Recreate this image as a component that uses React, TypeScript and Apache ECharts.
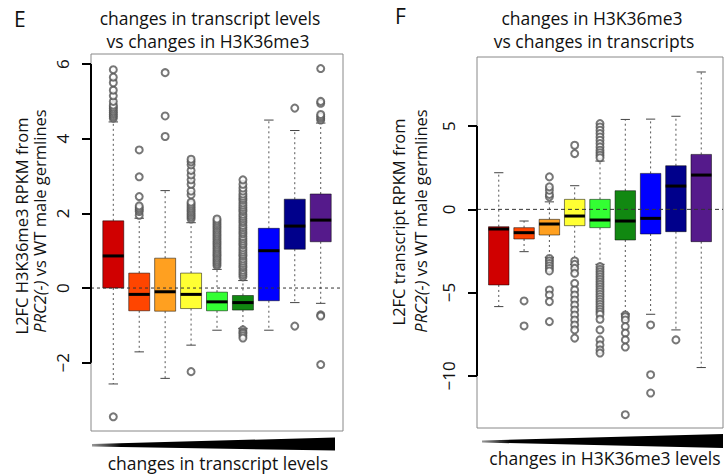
import React, { useEffect, useRef } from "react";
import * as echarts from "echarts";

// ---------- data ----------
const categories = [1, 2, 3, 4, 5, 6, 7, 8, 9];
const boxColors = ["#D00000", "#FF4500", "#FFA020", "#FFFF33", "#33FF33", "#118811", "#0000FF", "#00008B", "#551A8B"];

// Panel E: L2FC H3K36me3
const eLow = [-2.57, -1.71, -2.42, -1.53, -1.13, -1.08, -1.13, -0.39, -0.41];
const eQ1 = [0.0, -0.61, -0.62, -0.55, -0.61, -0.59, -0.34, 1.04, 1.24];
const eMed = [0.86, -0.17, -0.1, -0.17, -0.37, -0.39, 1.0, 1.66, 1.82];
const eQ3 = [1.8, 0.4, 0.8, 0.4, -0.11, -0.2, 1.6, 2.38, 2.52];
const eHigh = [4.45, 1.87, 2.61, 1.75, 0.5, 0.2, 4.5, 4.22, 4.42];
const eOutliers: number[][] = [
  [1, 4.55], [1, 4.6], [1, 4.65], [1, 4.7], [1, 4.75], [1, 4.8], [1, 4.85], [1, 4.9], [1, 5.0], [1, 5.15], [1, 5.3], [1, 5.5], [1, 5.65], [1, 5.85], [1, -3.45],
  [2, 1.95], [2, 2.05], [2, 2.1], [2, 2.15], [2, 2.2], [2, 2.45], [2, 2.98], [2, 3.7],
  [3, 4.06], [3, 4.61], [3, 5.77],
  [4, 1.85], [4, 1.9], [4, 1.95], [4, 2.0], [4, 2.05], [4, 2.1], [4, 2.15], [4, 2.2], [4, 2.25], [4, 2.3], [4, 2.5], [4, 2.6], [4, 2.78], [4, 2.9], [4, 3.03], [4, 3.15], [4, 3.3], [4, 3.38], [4, 3.45], [4, -2.24],
  [5, 0.6], [5, 0.65], [5, 0.7], [5, 0.75], [5, 0.8], [5, 0.85], [5, 0.9], [5, 0.95], [5, 1.0], [5, 1.05], [5, 1.1], [5, 1.15], [5, 1.2], [5, 1.25], [5, 1.3], [5, 1.35], [5, 1.4], [5, 1.45], [5, 1.5], [5, 1.55], [5, 1.6], [5, 1.65], [5, 1.7], [5, 1.75], [5, 1.8], [5, 1.85],
  [6, 0.3], [6, 0.36], [6, 0.42], [6, 0.48], [6, 0.55], [6, 0.6], [6, 0.66], [6, 0.72], [6, 0.78], [6, 0.85], [6, 0.9], [6, 0.96], [6, 1.02], [6, 1.08], [6, 1.15], [6, 1.2], [6, 1.26], [6, 1.32], [6, 1.38], [6, 1.45], [6, 1.5], [6, 1.56], [6, 1.62], [6, 1.68], [6, 1.75], [6, 1.8], [6, 1.86], [6, 1.92], [6, 1.98], [6, 2.05], [6, 2.1], [6, 2.16], [6, 2.22], [6, 2.28], [6, 2.35], [6, 2.4], [6, 2.46], [6, 2.52], [6, 2.6], [6, 2.68], [6, 2.78], [6, 2.9], [6, -1.12], [6, -1.18], [6, -1.22], [6, -1.28], [6, -1.34],
  [8, 4.82], [8, -1.02],
  [9, 4.5], [9, 4.55], [9, 4.6], [9, 4.65], [9, 4.95], [9, 5.0], [9, 5.88], [9, -0.72], [9, -0.75], [9, -2.05],
];
const eTicks = [-2, 0, 2, 4, 6];

// Panel F: L2FC transcript
const fLow = [-5.84, -2.54, -2.88, -3.3, -3.3, -6.28, -6.3, -7.24, -9.5];
const fQ1 = [-4.54, -1.78, -1.54, -0.98, -1.1, -1.84, -1.48, -1.34, -1.94];
const fMed = [-1.18, -1.4, -0.88, -0.4, -0.64, -0.7, -0.54, 1.4, 2.06];
const fQ3 = [-1.04, -1.1, -0.6, 0.6, 0.6, 1.12, 2.16, 2.62, 3.3];
const fHigh = [2.2, -0.7, 0.45, 1.42, 2.9, 5.4, 5.42, 5.59, 8.25];
const fOutliers: number[][] = [
  [2, -5.5], [2, -7.0],
  [3, 0.75], [3, 0.9], [3, 1.15], [3, 1.35], [3, 1.95], [3, -2.95], [3, -3.1], [3, -3.25], [3, -3.4], [3, -3.55], [3, -3.7], [3, -4.84], [3, -5.14], [3, -5.54], [3, -6.74],
  [4, 3.35], [4, 3.85], [4, -3.1], [4, -3.3], [4, -3.54], [4, -3.84], [4, -4.44], [4, -4.84], [4, -5.14], [4, -5.44], [4, -5.74], [4, -6.04], [4, -6.34], [4, -6.64], [4, -6.94], [4, -7.24], [4, -7.73],
  [5, 5.15], [5, 4.95], [5, 4.75], [5, 4.55], [5, 4.35], [5, 4.15], [5, 3.95], [5, 3.75], [5, 3.55], [5, 3.4], [5, 3.25], [5, 3.1],
  [5, -3.44], [5, -3.6], [5, -3.75], [5, -3.9], [5, -4.05], [5, -4.2], [5, -4.35], [5, -4.5], [5, -4.65], [5, -4.8], [5, -4.95], [5, -5.1], [5, -5.25], [5, -5.4], [5, -5.55], [5, -5.7], [5, -5.85], [5, -6.0], [5, -6.15], [5, -6.3], [5, -6.6], [5, -7.24], [5, -7.84], [5, -8.14], [5, -8.44], [5, -8.63],
  [6, -6.34], [6, -6.45], [6, -6.64], [6, -7.04], [6, -7.43], [6, -7.84], [6, -8.27], [6, -12.33],
  [7, -6.94], [7, -9.93], [7, -11.03],
  [8, -7.84],
];
const fTicks = [-10, -5, 0, 5];

const FONT = "'Open Sans', 'Noto Sans', sans-serif";

function boxRows(lo: number[], q1: number[], med: number[], q3: number[], hi: number[]) {
  return categories.map((c, i) => [c, lo[i], q1[i], med[i], q3[i], hi[i]]);
}

function renderBox(params: any, api: any) {
  const x = api.value(0);
  const lo = api.coord([x, api.value(1)]);
  const q1 = api.coord([x, api.value(2)]);
  const md = api.coord([x, api.value(3)]);
  const q3 = api.coord([x, api.value(4)]);
  const hi = api.coord([x, api.value(5)]);
  const bw = api.size([1, 0])[0] * 0.81;
  const cw = bw * 0.45;
  const cx = md[0];
  const color = boxColors[params.dataIndex];
  const dash = { stroke: "#555", lineWidth: 1, lineDash: [2, 3] };
  const cap = { stroke: "#444", lineWidth: 1 };
  return {
    type: "group",
    children: [
      { type: "line", shape: { x1: cx, y1: q3[1], x2: cx, y2: hi[1] }, style: dash },
      { type: "line", shape: { x1: cx, y1: q1[1], x2: cx, y2: lo[1] }, style: dash },
      { type: "line", shape: { x1: cx - cw / 2, y1: hi[1], x2: cx + cw / 2, y2: hi[1] }, style: cap },
      { type: "line", shape: { x1: cx - cw / 2, y1: lo[1], x2: cx + cw / 2, y2: lo[1] }, style: cap },
      {
        type: "rect",
        shape: { x: cx - bw / 2, y: q3[1], width: bw, height: q1[1] - q3[1] },
        style: { fill: color, stroke: "rgba(0,0,0,0.5)", lineWidth: 1 },
      },
      { type: "line", shape: { x1: cx - bw / 2, y1: md[1], x2: cx + bw / 2, y2: md[1] }, style: { stroke: "#000", lineWidth: 3 } },
    ],
  };
}

function yAxisCfg(gridIndex: number, min: number, max: number, ticks: number[]) {
  return {
    type: "value",
    gridIndex,
    min,
    max,
    splitLine: { show: false },
    axisLine: { show: false },
    axisTick: { show: true, length: 9, customValues: ticks, lineStyle: { color: "#000", width: 2 } },
    axisLabel: {
      show: true,
      customValues: ticks,
      rotate: 90,
      margin: 20,
      fontSize: 17,
      fontFamily: FONT,
      color: "#111",
      formatter: (v: number) => (v < 0 ? "\u2212" + Math.abs(v) : String(v)),
    },
  };
}

export default function App() {
  const ref = useRef<HTMLDivElement>(null);
  useEffect(() => {
    if (!ref.current) return;
    const chart = echarts.init(ref.current, null, { renderer: "svg" });
    const xMin = 0.14;
    const xMax = 9.86;
    const wedgeFill = () =>
      new echarts.graphic.LinearGradient(0, 0, 1, 0, [
        { offset: 0, color: "#999" },
        { offset: 0.12, color: "#000" },
        { offset: 1, color: "#000" },
      ]);
    const textStyle = { fontFamily: FONT, fontSize: 17.5, fill: "#111" };
    const axTitle = { fontFamily: FONT, fontSize: 16.5, fill: "#111" };
    chart.setOption({
      animation: false,
      backgroundColor: "#fff",
      grid: [
        { left: 91, top: 54, width: 252, height: 377, show: true, borderColor: "#888", borderWidth: 1, backgroundColor: "transparent" },
        { left: 477, top: 57, width: 246, height: 371, show: true, borderColor: "#888", borderWidth: 1, backgroundColor: "transparent" },
      ],
      xAxis: [
        { type: "value", gridIndex: 0, min: xMin, max: xMax, show: false },
        { type: "value", gridIndex: 1, min: xMin, max: xMax, show: false },
      ],
      yAxis: [yAxisCfg(0, -3.83, 6.27, eTicks), yAxisCfg(1, -13.13, 9.15, fTicks)],
      series: [
        { type: "line", xAxisIndex: 0, yAxisIndex: 0, data: [[xMin, 0], [xMax, 0]], symbol: "none", lineStyle: { color: "#333", width: 1, type: [3, 3] }, silent: true },
        { type: "line", xAxisIndex: 1, yAxisIndex: 1, data: [[xMin, 0], [xMax, 0]], symbol: "none", lineStyle: { color: "#333", width: 1, type: [4, 3] }, silent: true },
        { type: "line", xAxisIndex: 0, yAxisIndex: 0, data: [[xMin, eTicks[0]], [xMin, eTicks[eTicks.length - 1]]], symbol: "none", clip: false, lineStyle: { color: "#000", width: 2 }, z: 5 },
        { type: "line", xAxisIndex: 1, yAxisIndex: 1, data: [[xMin, fTicks[0]], [xMin, fTicks[fTicks.length - 1]]], symbol: "none", clip: false, lineStyle: { color: "#000", width: 2 }, z: 5 },
        { type: "custom", xAxisIndex: 0, yAxisIndex: 0, data: boxRows(eLow, eQ1, eMed, eQ3, eHigh), renderItem: renderBox, encode: { x: 0, y: [1, 2, 3, 4, 5] }, z: 3 },
        { type: "custom", xAxisIndex: 1, yAxisIndex: 1, data: boxRows(fLow, fQ1, fMed, fQ3, fHigh), renderItem: renderBox, encode: { x: 0, y: [1, 2, 3, 4, 5] }, z: 3 },
        { type: "scatter", xAxisIndex: 0, yAxisIndex: 0, data: eOutliers, symbol: "emptyCircle", symbolSize: 7, itemStyle: { color: "#555", borderWidth: 1.2 }, z: 4 },
        { type: "scatter", xAxisIndex: 1, yAxisIndex: 1, data: fOutliers, symbol: "emptyCircle", symbolSize: 7, itemStyle: { color: "#555", borderWidth: 1.2 }, z: 4 },
      ],
      graphic: [
        { type: "text", x: 14, y: 8, style: { text: "E", fontFamily: FONT, fontSize: 21, fill: "#111" } },
        { type: "text", x: 395, y: 5, style: { text: "F", fontFamily: FONT, fontSize: 21, fill: "#111" } },
        { type: "text", x: 210, y: 18, style: { ...textStyle, text: "changes in transcript levels", align: "center", verticalAlign: "middle" } },
        { type: "text", x: 208, y: 41, style: { ...textStyle, text: "vs changes in H3K36me3", align: "center", verticalAlign: "middle" } },
        { type: "text", x: 592, y: 18, style: { ...textStyle, text: "changes in H3K36me3", align: "center", verticalAlign: "middle" } },
        { type: "text", x: 594, y: 41, style: { ...textStyle, text: "vs changes in transcripts", align: "center", verticalAlign: "middle" } },
        { type: "text", x: 21, y: 226, rotation: Math.PI / 2, style: { ...axTitle, text: "L2FC H3K36me3 RPKM from", align: "center", verticalAlign: "middle" } },
        {
          type: "text", x: 39, y: 221, rotation: Math.PI / 2,
          style: { ...axTitle, text: "{i|PRC2(-)} vs WT male germlines", align: "center", verticalAlign: "middle", rich: { i: { fontStyle: "italic", fontFamily: FONT, fontSize: 16.5, fill: "#111" } } },
        },
        { type: "text", x: 398.5, y: 222, rotation: Math.PI / 2, style: { ...axTitle, text: "L2FC transcript RPKM from", align: "center", verticalAlign: "middle" } },
        {
          type: "text", x: 420, y: 221, rotation: Math.PI / 2,
          style: { ...axTitle, text: "{i|PRC2(-)} vs WT male germlines", align: "center", verticalAlign: "middle", rich: { i: { fontStyle: "italic", fontFamily: FONT, fontSize: 16.5, fill: "#111" } } },
        },
        { type: "polygon", shape: { points: [[92, 444], [335, 437.5], [335, 450.5], [92, 446.5]] }, style: { fill: wedgeFill() } },
        { type: "polygon", shape: { points: [[482, 440.5], [723, 434], [723, 448], [482, 442.5]] }, style: { fill: wedgeFill() } },
        { type: "text", x: 218, y: 463, style: { ...textStyle, text: "changes in transcript levels", align: "center", verticalAlign: "middle" } },
        { type: "text", x: 605, y: 458, style: { ...textStyle, text: "changes in H3K36me3 levels", align: "center", verticalAlign: "middle" } },
      ],
    });
    return () => chart.dispose();
  }, []);
  return <div ref={ref} style={{ position: "fixed", left: 0, top: 0, width: 727, height: 476 }} />;
}
